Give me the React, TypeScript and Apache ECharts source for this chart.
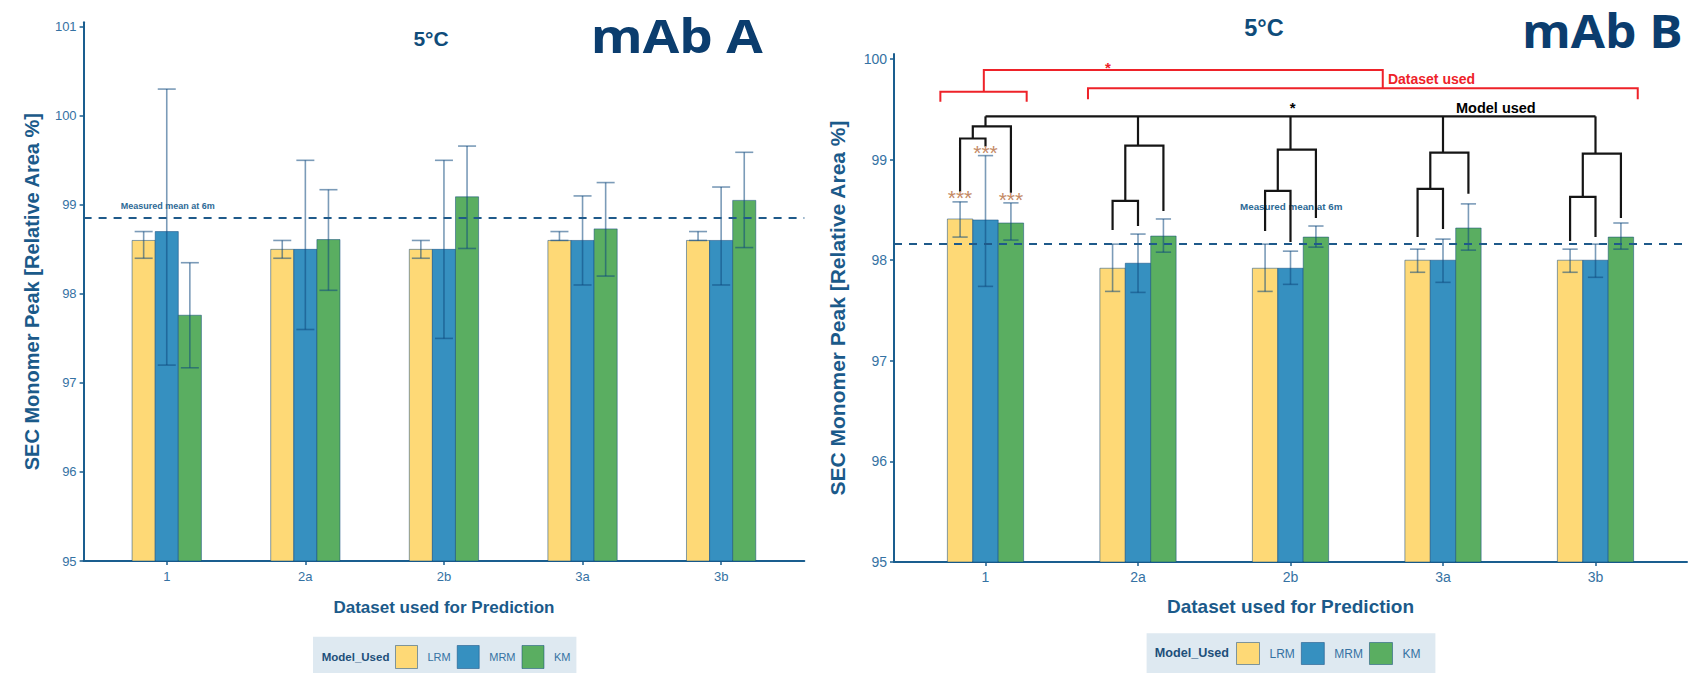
import { useEffect, useRef } from 'react';
import * as echarts from 'echarts';

const categories = ['1', '2a', '2b', '3a', '3b'];
const models = ['LRM', 'MRM', 'KM'];
const modelColors = ['#FED976', '#3690C0', '#5AAE61'];
const yTicksA = [95, 96, 97, 98, 99, 100, 101];
const yTicksB = [95, 96, 97, 98, 99, 100];
const xTickPos = [1, 2, 3, 4, 5];

// mAb A
const aLRM = [98.6, 98.5, 98.5, 98.6, 98.6];
const aLRMLow = [98.4, 98.4, 98.4, 98.6, 98.6];
const aLRMHigh = [98.7, 98.6, 98.6, 98.7, 98.7];
const aMRM = [98.7, 98.5, 98.5, 98.6, 98.6];
const aMRMLow = [97.2, 97.6, 97.5, 98.1, 98.1];
const aMRMHigh = [100.3, 99.5, 99.5, 99.1, 99.2];
const aKM = [97.76, 98.61, 99.09, 98.73, 99.05];
const aKMLow = [97.17, 98.04, 98.51, 98.2, 98.52];
const aKMHigh = [98.35, 99.17, 99.66, 99.25, 99.59];
const aMean = 98.86;

// mAb B
const bLRM = [98.41, 97.92, 97.92, 98.0, 98.0];
const bLRMLow = [98.23, 97.69, 97.69, 97.88, 97.88];
const bLRMHigh = [98.58, 98.16, 98.16, 98.11, 98.11];
const bMRM = [98.4, 97.97, 97.92, 98.0, 98.0];
const bMRMLow = [97.74, 97.68, 97.76, 97.78, 97.83];
const bMRMHigh = [99.04, 98.26, 98.09, 98.21, 98.16];
const bKM = [98.37, 98.24, 98.23, 98.32, 98.23];
const bKMLow = [98.2, 98.08, 98.13, 98.1, 98.11];
const bKMHigh = [98.57, 98.41, 98.34, 98.56, 98.37];
const bMean = 98.16;

// mAb B significance annotations (data space: x in category units, y in %)
const dendroTop = 99.43;
const dendroL2 = [99.33, 99.14, 99.1, 99.07, 99.06];
const dendroL3 = [99.21, 98.59, 98.69, 98.71, 98.63];
const dendroLRMEnd = [98.68, 98.3, 98.29, 98.23, 98.19];
const dendroMRMEnd = [99.13, 98.34, 98.18, 98.31, 98.23];
const dendroKMEnd = [98.67, 98.49, 98.42, 98.66, 98.42];
const redBrackets = [
  [[0.704, 99.575], [0.704, 99.675], [1.27, 99.675], [1.27, 99.575]],
  [[1.672, 99.6], [1.672, 99.71], [5.277, 99.71], [5.277, 99.6]],
  [[0.989, 99.675], [0.989, 99.89], [3.605, 99.89], [3.605, 99.71]],
];
const starLabelsB = [
  { text: '***', x: 0.833, y: 98.62 },
  { text: '***', x: 1.0, y: 99.07 },
  { text: '***', x: 1.167, y: 98.605 },
];

const FONT = "'Liberation Sans', Arial, Helvetica, sans-serif";
const AXIS_COLOR = '#1a5e8f';
const LABEL_COLOR = '#3572a3';
const TITLE_COLOR = '#1b5a8a';
const ERR_COLOR = 'rgba(14,72,125,0.55)';
const BORDER_COLOR = 'rgba(14,72,125,0.5)';
const BAR_STEP = 1 / 6;

function barSeries(name: string, mi: number, vals: number[], lows: number[], highs: number[], axis: number, capHalf: number, mean?: number) {
  const s: any = {
    type: 'custom',
    name,
    xAxisIndex: axis,
    yAxisIndex: axis,
    itemStyle: { color: modelColors[mi] },
    encode: { x: 0, y: 1 },
    data: categories.map((_, i) => [xTickPos[i], vals[i], lows[i], highs[i]]),
    renderItem: (params: any, api: any) => {
      const c = api.value(0) + (mi - 1) * BAR_STEP;
      const v = api.value(1);
      const lo = api.value(2);
      const hi = api.value(3);
      const p0 = api.coord([c - BAR_STEP / 2, v]);
      const p1 = api.coord([c + BAR_STEP / 2, 95]);
      const eT = api.coord([c, hi]);
      const eB = api.coord([c, lo]);
      const cl = api.coord([c - capHalf, hi])[0];
      const cr = api.coord([c + capHalf, hi])[0];
      const ls = { stroke: ERR_COLOR, lineWidth: 1.6 };
      return {
        type: 'group',
        children: [
          { type: 'rect', shape: { x: p0[0], y: p0[1], width: p1[0] - p0[0], height: p1[1] - p0[1] }, style: { fill: modelColors[mi], stroke: BORDER_COLOR, lineWidth: 1 } },
          { type: 'line', shape: { x1: eT[0], y1: eT[1], x2: eB[0], y2: eB[1] }, style: ls },
          { type: 'line', shape: { x1: cl, y1: eT[1], x2: cr, y2: eT[1] }, style: ls },
          { type: 'line', shape: { x1: cl, y1: eB[1], x2: cr, y2: eB[1] }, style: ls },
        ],
      };
    },
  };
  if (mean !== undefined) {
    s.markLine = {
      silent: true,
      symbol: ['none', 'none'],
      label: { show: false },
      lineStyle: { color: '#1f5a8a', width: 2, type: [8, 7] },
      data: [{ yAxis: mean }],
    };
  }
  return s;
}

function textEl(api: any, text: string, p: number[], opts: any) {
  const q = api.coord(p);
  return {
    type: 'text',
    x: q[0],
    y: q[1],
    style: {
      text,
      fill: opts.fill,
      fontSize: opts.fontSize,
      fontWeight: opts.fontWeight || 'normal',
      fontFamily: FONT,
      align: opts.align || 'left',
      verticalAlign: 'middle',
      textAlign: opts.align || 'left',
      textVerticalAlign: 'middle',
    },
  };
}

function polyEl(api: any, pts: number[][], stroke: string, lineWidth: number) {
  return { type: 'polyline', shape: { points: pts.map((p) => api.coord(p)) }, style: { stroke, lineWidth, fill: null } };
}

function xAxisCfg(grid: number, fs: number, margin: number) {
  return {
    type: 'value',
    gridIndex: grid,
    min: 0.4,
    max: 5.6,
    name: 'Dataset used for Prediction',
    nameLocation: 'middle',
    nameGap: grid === 0 ? 38 : 35,
    nameTextStyle: { color: TITLE_COLOR, fontWeight: 'bold', fontSize: grid === 0 ? 17 : 19, fontFamily: FONT },
    axisLine: { show: true, onZero: false, lineStyle: { color: AXIS_COLOR, width: 2 } },
    axisTick: { show: true, customValues: xTickPos, length: 4, lineStyle: { color: AXIS_COLOR, width: 1.5 } },
    axisLabel: {
      customValues: xTickPos,
      margin,
      color: LABEL_COLOR,
      fontSize: fs,
      fontFamily: FONT,
      formatter: (v: number) => categories[Math.round(v) - 1] ?? '',
    },
    splitLine: { show: false },
  };
}

function yAxisCfg(grid: number, max: number, ticks: number[], fs: number, gap: number, nameFs: number) {
  return {
    type: 'value',
    gridIndex: grid,
    min: 95,
    max,
    name: 'SEC Monomer Peak [Relative Area %]',
    nameLocation: 'middle',
    nameRotate: 90,
    nameGap: gap,
    nameTextStyle: { color: TITLE_COLOR, fontWeight: 'bold', fontSize: nameFs, fontFamily: FONT },
    axisLine: { show: true, onZero: false, lineStyle: { color: AXIS_COLOR, width: 2 } },
    axisTick: { show: true, customValues: ticks, length: 4, lineStyle: { color: AXIS_COLOR, width: 1.5 } },
    axisLabel: { customValues: ticks, margin: 7, color: LABEL_COLOR, fontSize: fs, fontFamily: FONT, formatter: (v: number) => String(v) },
    splitLine: { show: false },
  };
}

function legendCfg(left: number, top: number, w: number, h: number, fs: number) {
  return {
    left,
    top,
    orient: 'horizontal',
    padding: 0,
    itemWidth: w,
    itemHeight: h,
    itemGap: 6,
    icon: 'rect',
    textStyle: { color: LABEL_COLOR, fontSize: fs, fontFamily: FONT, padding: [0, 0, 0, 5] },
    data: models.map((m, i) => ({ name: m, itemStyle: { color: modelColors[i], borderColor: BORDER_COLOR, borderWidth: 1 } })),
  };
}

export default function App() {
  const ref = useRef<HTMLDivElement>(null);
  useEffect(() => {
    if (!ref.current) return;
    const chart = echarts.init(ref.current, undefined, { renderer: 'svg' });
    const option: any = {
      animation: false,
      backgroundColor: '#ffffff',
      grid: [
        { left: 83.6, top: 22.3, width: 720.7, height: 538.7 },
        { left: 894, top: 54, width: 793, height: 508 },
      ],
      xAxis: [xAxisCfg(0, 13, 9), xAxisCfg(1, 14, 8)],
      yAxis: [yAxisCfg(0, 101.05, yTicksA, 13, 42, 20), yAxisCfg(1, 100.05, yTicksB, 14, 46, 21)],
      legend: [legendCfg(395, 645, 22, 23, 11), legendCfg(1236, 642, 23, 22, 12)],
      graphic: [
        { type: 'rect', shape: { x: 313, y: 636.7, width: 263.4, height: 40 }, style: { fill: '#dee9f1' }, z: -1 },
        { type: 'rect', shape: { x: 1146.6, y: 633.3, width: 288.8, height: 42 }, style: { fill: '#dee9f1' }, z: -1 },
        { type: 'text', x: 321.7, y: 656.5, style: { text: 'Model_Used', fill: '#1d4f7a', fontSize: 11.5, fontWeight: 'bold', fontFamily: FONT, textVerticalAlign: 'middle', verticalAlign: 'middle' } },
        { type: 'text', x: 1154.8, y: 652.5, style: { text: 'Model_Used', fill: '#1d4f7a', fontSize: 12.6, fontWeight: 'bold', fontFamily: FONT, textVerticalAlign: 'middle', verticalAlign: 'middle' } },
        { type: 'text', x: 431, y: 38, style: { text: '5°C', fill: '#0f4c7a', fontSize: 21, fontWeight: 'bold', fontFamily: FONT, textAlign: 'center', align: 'center', textVerticalAlign: 'middle', verticalAlign: 'middle' } },
        { type: 'text', x: 1264, y: 27.7, style: { text: '5°C', fill: '#0f4c7a', fontSize: 23.5, fontWeight: 'bold', fontFamily: FONT, textAlign: 'center', align: 'center', textVerticalAlign: 'middle', verticalAlign: 'middle' } },
        { type: 'text', x: 590.7, y: 35, scaleX: 1.15, style: { text: 'mAb A', fill: '#0b3d6e', fontSize: 46, fontWeight: 'bold', fontFamily: "'Open Sans', sans-serif", textVerticalAlign: 'middle', verticalAlign: 'middle' } },
        { type: 'text', x: 1522, y: 30, scaleX: 1.08, style: { text: 'mAb B', fill: '#0b3d6e', fontSize: 46, fontWeight: 'bold', fontFamily: "'Open Sans', sans-serif", textVerticalAlign: 'middle', verticalAlign: 'middle' } },
      ],
      series: [
        barSeries('LRM', 0, aLRM, aLRMLow, aLRMHigh, 0, 0.065, aMean),
        barSeries('MRM', 1, aMRM, aMRMLow, aMRMHigh, 0, 0.065),
        barSeries('KM', 2, aKM, aKMLow, aKMHigh, 0, 0.065),
        barSeries('LRM', 0, bLRM, bLRMLow, bLRMHigh, 1, 0.05, bMean),
        barSeries('MRM', 1, bMRM, bMRMLow, bMRMHigh, 1, 0.05),
        barSeries('KM', 2, bKM, bKMLow, bKMHigh, 1, 0.05),
        {
          type: 'custom',
          name: 'meanLabelA',
          xAxisIndex: 0,
          yAxisIndex: 0,
          silent: true,
          z: 5,
          data: [[0.668, 98.99]],
          renderItem: (params: any, api: any) =>
            textEl(api, 'Measured mean at 6m', [api.value(0), api.value(1)], { fill: '#2d6a96', fontSize: 9, fontWeight: 'bold' }),
        },
        {
          type: 'custom',
          name: 'annotB',
          xAxisIndex: 1,
          yAxisIndex: 1,
          silent: true,
          z: 5,
          data: [[2.669, 98.53]],
          renderItem: (params: any, api: any) => {
            const children: any[] = [];
            children.push(textEl(api, 'Measured mean at 6m', [api.value(0), api.value(1)], { fill: '#2d6a96', fontSize: 9.8, fontWeight: 'bold' }));
            const K = '#151515';
            children.push(polyEl(api, [[xTickPos[0], dendroTop], [xTickPos[4], dendroTop]], K, 2.2));
            xTickPos.forEach((c, i) => {
              const l = c - BAR_STEP, m = c, r = c + BAR_STEP, pair = c - BAR_STEP / 2;
              children.push(polyEl(api, [[m, dendroTop], [m, dendroL2[i]]], K, 2.2));
              children.push(polyEl(api, [[pair, dendroL3[i]], [pair, dendroL2[i]], [r, dendroL2[i]], [r, dendroKMEnd[i]]], K, 2.2));
              children.push(polyEl(api, [[l, dendroLRMEnd[i]], [l, dendroL3[i]], [m, dendroL3[i]], [m, dendroMRMEnd[i]]], K, 2.2));
            });
            redBrackets.forEach((b) => children.push(polyEl(api, b, '#ee2229', 2)));
            starLabelsB.forEach((s) => children.push(textEl(api, s.text, [s.x, s.y], { fill: '#c48a66', fontSize: 21, align: 'center' })));
            children.push(textEl(api, '*', [1.803, 99.92], { fill: '#ee2229', fontSize: 15, fontWeight: 'bold', align: 'center' }));
            children.push(textEl(api, 'Dataset used', [3.639, 99.806], { fill: '#ee2229', fontSize: 14, fontWeight: 'bold' }));
            children.push(textEl(api, '*', [3.014, 99.52], { fill: '#000000', fontSize: 15, fontWeight: 'bold', align: 'center' }));
            children.push(textEl(api, 'Model used', [4.085, 99.51], { fill: '#000000', fontSize: 14.5, fontWeight: 'bold' }));
            return { type: 'group', children };
          },
        },
      ],
    };
    chart.setOption(option);
    return () => chart.dispose();
  }, []);
  return <div ref={ref} style={{ position: 'fixed', left: 0, top: 0, width: 1691, height: 673 }} />;
}
